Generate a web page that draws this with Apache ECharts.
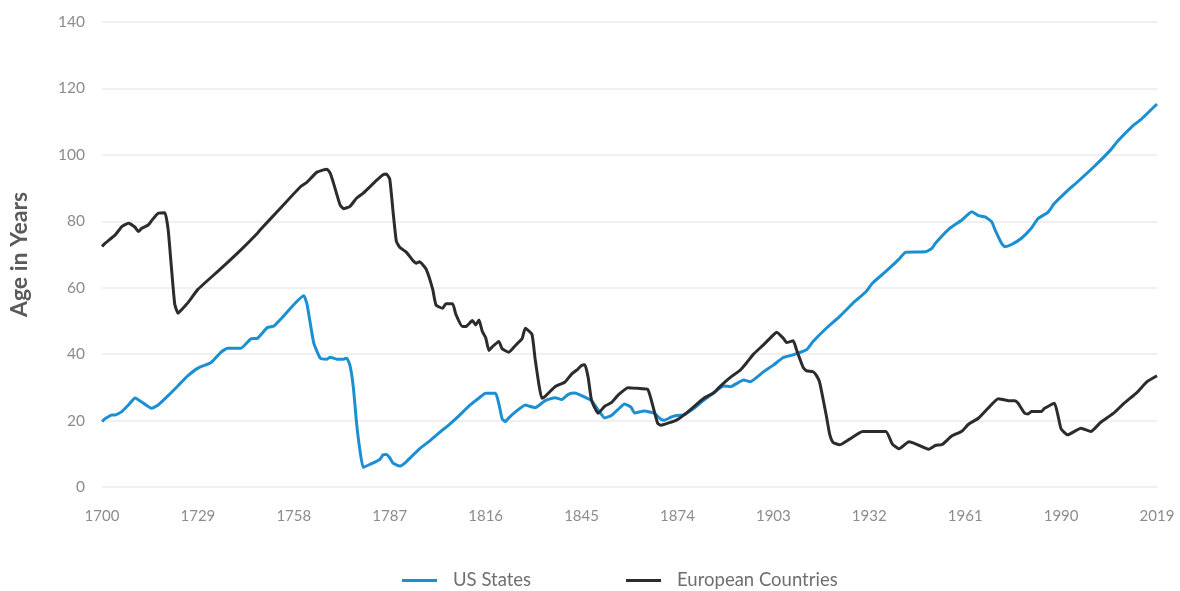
<!DOCTYPE html>
<html>
<head>
<meta charset="utf-8">
<script src="https://cdn.jsdelivr.net/npm/echarts@6/dist/echarts.min.js"></script>
<style>
  html, body { margin: 0; padding: 0; background: #fff; }
  #chart { width: 1180px; height: 591px; }
</style>
</head>
<body>
<div id="chart"></div>
<script>
// x tick labels
var yearTicks = [1700, 1729, 1758, 1787, 1816, 1845, 1874, 1903, 1932, 1961, 1990, 2019];

// US States
var usYears = [1700, 1701, 1703, 1704, 1706, 1708, 1710, 1712, 1715, 1717, 1720, 1723, 1726, 1729, 1733, 1736, 1738, 1742, 1745, 1747,
    1750, 1752, 1754, 1761, 1762, 1764, 1766, 1768, 1769, 1771, 1773, 1774, 1775, 1776, 1777, 1778, 1779, 1781, 1784, 1785,
    1786, 1787, 1788, 1790, 1792, 1796, 1799, 1802, 1805, 1808, 1811, 1814, 1816, 1819, 1820, 1821, 1822, 1823, 1825, 1828,
    1829, 1831, 1834, 1837, 1839, 1841, 1843, 1845, 1848, 1850, 1852, 1854, 1856, 1858, 1860, 1861, 1864, 1866, 1867, 1869,
    1870, 1872, 1873, 1876, 1879, 1882, 1885, 1888, 1890, 1894, 1896, 1900, 1903, 1906, 1909, 1913, 1915, 1919, 1923, 1927,
    1931, 1933, 1937, 1941, 1943, 1949, 1951, 1952, 1956, 1960, 1963, 1965, 1967, 1969, 1970, 1972, 1973, 1975, 1978, 1981,
    1983, 1986, 1988, 1993, 1994, 2000, 2005, 2007, 2012, 2014, 2019];
var usAge = [19.7, 20.6, 21.7, 21.7, 22.7, 24.7, 26.8, 25.6, 23.7, 24.7, 27.5, 30.5, 33.5, 35.8, 37.5, 40.6, 41.8, 41.8, 44.6, 44.8,
    48.0, 48.5, 50.5, 57.6, 55.0, 43.5, 38.8, 38.5, 39.1, 38.5, 38.5, 38.8, 36.5, 30.0, 19.0, 11.0, 5.9, 6.8, 8.3, 9.7,
    9.8, 8.8, 7.2, 6.3, 7.6, 11.5, 13.8, 16.4, 18.8, 21.5, 24.4, 26.8, 28.2, 28.2, 25.0, 20.5, 19.7, 20.8, 22.6, 24.7,
    24.4, 23.9, 26.0, 26.9, 26.3, 27.9, 28.3, 27.5, 26.0, 23.2, 20.8, 21.5, 23.3, 25.0, 24.0, 22.3, 22.9, 22.5, 22.2, 20.4,
    20.1, 21.0, 21.4, 21.8, 23.7, 26.2, 28.4, 30.4, 30.2, 32.2, 31.7, 34.7, 36.7, 39.0, 39.8, 41.3, 43.8, 47.8, 51.3, 55.3,
    58.8, 61.4, 64.9, 68.6, 70.7, 70.8, 71.9, 73.4, 77.6, 80.4, 82.9, 81.7, 81.3, 79.9, 77.5, 73.4, 72.3, 73.0, 74.9, 77.9,
    80.8, 82.7, 85.4, 90.2, 91.0, 96.5, 101.5, 104.0, 109.0, 110.5, 115.3];

// European Countries
var euYears = [1700, 1701, 1704, 1706, 1708, 1710, 1711, 1712, 1714, 1715, 1717, 1719, 1720, 1721, 1722, 1723, 1724, 1726, 1729, 1736,
    1742, 1747, 1748, 1754, 1760, 1762, 1765, 1768, 1769, 1770, 1772, 1773, 1775, 1777, 1779, 1783, 1785, 1786, 1787, 1788,
    1789, 1790, 1792, 1794, 1795, 1796, 1798, 1800, 1801, 1803, 1804, 1806, 1807, 1809, 1810, 1812, 1813, 1814, 1815, 1816,
    1817, 1818, 1820, 1821, 1823, 1825, 1827, 1828, 1830, 1831, 1833, 1834, 1837, 1840, 1842, 1844, 1845, 1846, 1847, 1848,
    1850, 1852, 1854, 1856, 1859, 1862, 1865, 1866, 1868, 1869, 1872, 1874, 1876, 1879, 1882, 1885, 1887, 1890, 1893, 1895,
    1897, 1900, 1903, 1904, 1906, 1907, 1909, 1910, 1912, 1913, 1915, 1916, 1917, 1919, 1920, 1921, 1923, 1926, 1930, 1937,
    1939, 1941, 1944, 1946, 1950, 1952, 1954, 1957, 1960, 1962, 1965, 1968, 1971, 1974, 1976, 1977, 1979, 1980, 1981, 1984,
    1985, 1988, 1989, 1990, 1992, 1996, 1999, 2002, 2006, 2009, 2013, 2016, 2019];
var euAge = [72.4, 73.4, 75.9, 78.4, 79.4, 78.2, 76.9, 77.9, 78.9, 80.2, 82.4, 82.6, 77.5, 66.0, 55.0, 52.3, 53.3, 55.5, 59.5, 65.8,
    71.4, 76.4, 77.6, 84.0, 90.4, 91.8, 94.8, 95.7, 94.5, 91.5, 84.9, 83.8, 84.5, 87.0, 88.5, 92.3, 94.0, 94.2, 92.7, 83.0,
    74.0, 72.2, 70.7, 68.2, 67.4, 67.8, 65.6, 59.5, 54.8, 53.8, 55.2, 55.2, 52.0, 48.3, 48.3, 50.1, 48.8, 50.3, 46.8, 45.0,
    41.1, 42.2, 43.8, 41.6, 40.6, 42.6, 44.6, 47.8, 46.0, 38.3, 26.7, 27.3, 30.2, 31.6, 34.0, 35.6, 36.6, 36.8, 33.0, 26.2,
    22.2, 24.3, 25.4, 27.6, 29.9, 29.7, 29.4, 26.5, 19.2, 18.6, 19.5, 20.3, 21.7, 24.2, 26.7, 28.4, 30.4, 33.0, 35.2, 37.5,
    40.0, 42.8, 45.8, 46.6, 44.8, 43.5, 44.0, 41.3, 36.0, 35.0, 34.7, 33.6, 31.5, 21.5, 16.0, 13.5, 12.7, 14.4, 16.7, 16.7,
    12.9, 11.5, 13.6, 13.0, 11.4, 12.5, 12.8, 15.4, 16.8, 18.9, 20.7, 23.8, 26.6, 26.0, 26.0, 25.2, 22.2, 22.0, 22.7, 22.7,
    23.7, 25.2, 21.8, 17.5, 15.7, 17.7, 16.7, 19.5, 22.3, 25.2, 28.5, 31.7, 33.5];

function pairs(xs, ys) {
    return xs.map(function (x, i) { return [x, ys[i]]; });
}

var dom = document.getElementById("chart");
var myChart = echarts.init(dom);
var labelColor = '#8c8c8c';

var option = {
    animation: false,
    grid: { left: 102, right: 23, top: 22, bottom: 104 },
    legend: {
        bottom: -4,
        left: 397,
        itemWidth: 35,
        itemHeight: 3,
        itemGap: 95,
        icon: 'rect',
        textStyle: { color: '#6f6f6f', fontSize: 18.5, fontFamily: 'Lato', padding: [0, 0, 0, 11] },
        data: ['US States', 'European Countries']
    },
    xAxis: {
        type: 'value',
        min: 1700,
        max: 2019,
        axisLine: { show: false },
        axisTick: { show: false },
        splitLine: { show: false },
        axisLabel: {
            customValues: yearTicks,
            formatter: function (v) { return String(v); },
            color: labelColor,
            fontSize: 15,
            fontFamily: 'Lato',
            margin: 22
        }
    },
    yAxis: {
        type: 'value',
        min: 0,
        max: 140,
        interval: 20,
        name: 'Age in Years',
        nameLocation: 'middle',
        nameGap: 71,
        nameTextStyle: { color: '#5a5a5a', fontSize: 23, fontWeight: 'bold', fontFamily: 'Lato' },
        axisLine: { show: false },
        axisTick: { show: false },
        axisLabel: { color: labelColor, fontSize: 15.5, fontFamily: 'Lato', margin: 17 },
        splitLine: { lineStyle: { color: '#f0f0f0', width: 2 } }
    },
    series: [
        {
            name: 'US States',
            type: 'line',
            showSymbol: false,
            smooth: 0.15,
            color: '#1b8fd2',
            lineStyle: { width: 3, color: '#1b8fd2' },
            data: pairs(usYears, usAge)
        },
        {
            name: 'European Countries',
            type: 'line',
            showSymbol: false,
            smooth: 0.15,
            color: '#2b2c30',
            lineStyle: { width: 3, color: '#2b2c30' },
            data: pairs(euYears, euAge)
        }
    ]
};
if (option && typeof option === "object") {
    myChart.setOption(option, true);
}
</script>
</body>
</html>
